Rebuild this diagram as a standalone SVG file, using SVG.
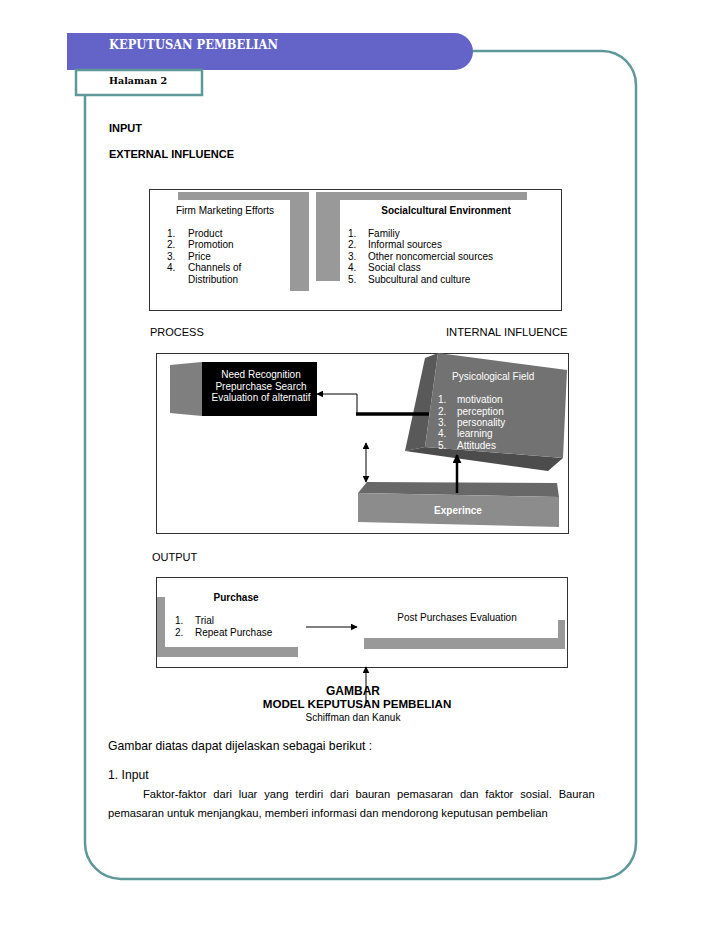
<svg xmlns="http://www.w3.org/2000/svg" width="728" height="942" viewBox="0 0 728 942">
<defs>
<marker id="ah" viewBox="0 0 10 10" refX="9" refY="5" markerWidth="7" markerHeight="7" markerUnits="userSpaceOnUse" orient="auto-start-reverse">
<path d="M0,0 L10,5 L0,10 Z" fill="#000"/>
</marker>
<marker id="ahb" viewBox="0 0 10 10" refX="9" refY="5" markerWidth="9" markerHeight="9" markerUnits="userSpaceOnUse" orient="auto-start-reverse">
<path d="M0,0 L10,5 L0,10 Z" fill="#000"/>
</marker>
<style>
.s{font-family:"Liberation Sans",Arial,sans-serif;fill:#000}
.w{font-family:"Liberation Sans",Arial,sans-serif;fill:#fff}
.b{font-weight:bold}
.f10{font-size:10px}
.f11{font-size:11px}
.box{fill:#fff;stroke:#333;stroke-width:1}
.grey{fill:#999}
.teal{fill:none;stroke:#5e9898;stroke-width:2.5}
.ln{fill:none;stroke:#000;stroke-width:1}
</style>
</defs>
<rect width="728" height="942" fill="#fff"/>

<g id="page-frame">
<path class="teal" d="M473,51 H602 A34,34 0 0 1 636,85 V843 A36,36 0 0 1 600,879 H121 A36,36 0 0 1 85,843 V96"/>
</g>

<g id="header">
<path d="M67,33 H454.5 A18.5,18.5 0 0 1 454.5,70 H67 Z" fill="#6464c8"/>
<text x="109" y="49" font-family="'DejaVu Serif','Liberation Serif',serif" font-weight="bold" font-size="12.5" fill="#fff" textLength="169" lengthAdjust="spacingAndGlyphs">KEPUTUSAN PEMBELIAN</text>
</g>

<g id="halaman">
<rect x="76" y="70" width="126" height="25" fill="#fff" stroke="#5e9898" stroke-width="2.5"/>
<text x="109" y="84" font-family="'DejaVu Serif','Liberation Serif',serif" font-weight="bold" font-size="10" fill="#000" textLength="58" lengthAdjust="spacingAndGlyphs">Halaman 2</text>
</g>

<g id="section-labels">
<text class="s b f11" x="109" y="132">INPUT</text>
<text class="s b f11" x="109" y="158">EXTERNAL INFLUENCE</text>
<text class="s f11" x="150" y="336">PROCESS</text>
<text class="s" font-size="11.2" x="446" y="336">INTERNAL INFLUENCE</text>
<text class="s f11" x="152" y="561">OUTPUT</text>
</g>

<g id="external-influence">
<rect class="box" x="149.5" y="189.5" width="412" height="121"/>
<path class="grey" d="M178,192 H309 V291 H290 V200 H178 Z"/>
<path class="grey" d="M316,192 H527 V200 H340 V281 H316 Z"/>
</g>

<g id="firm-marketing">
<text class="s f10" x="225" y="214" text-anchor="middle">Firm Marketing Efforts</text>
<text class="s f10" x="167" y="237">1.</text><text class="s f10" x="188" y="237">Product</text>
<text class="s f10" x="167" y="248">2.</text><text class="s f10" x="188" y="248">Promotion</text>
<text class="s f10" x="167" y="260">3.</text><text class="s f10" x="188" y="260">Price</text>
<text class="s f10" x="167" y="271">4.</text><text class="s f10" x="188" y="271">Channels of</text>
<text class="s f10" x="188" y="283">Distribution</text>
</g>

<g id="socialcultural">
<text class="s b f10" x="446" y="214" text-anchor="middle">Socialcultural Environment</text>
<text class="s f10" x="348" y="237">1.</text><text class="s f10" x="368" y="237">Familiy</text>
<text class="s f10" x="348" y="248">2.</text><text class="s f10" x="368" y="248">Informal sources</text>
<text class="s f10" x="348" y="260">3.</text><text class="s f10" x="368" y="260">Other noncomercial sources</text>
<text class="s f10" x="348" y="271">4.</text><text class="s f10" x="368" y="271">Social class</text>
<text class="s f10" x="348" y="283">5.</text><text class="s f10" x="368" y="283">Subcultural and culture</text>
</g>

<g id="process-frame">
<rect class="box" x="156.5" y="353.5" width="412" height="180"/>
</g>

<g id="need-recognition">
<path d="M170,365 L202,362 L202,416 L170,413 Z" fill="#7f7f7f"/>
<rect x="202" y="362" width="115" height="54" fill="#000"/>
<text class="w f10" x="261" y="378" text-anchor="middle">Need Recognition</text>
<text class="w f10" x="261" y="389.5" text-anchor="middle">Prepurchase Search</text>
<text class="w f10" x="261" y="401" text-anchor="middle">Evaluation of alternatif</text>
</g>

<g id="psychological-field">
<path d="M425,358 L438,353 L425,447 L405,451 Z" fill="#595959"/>
<path d="M405,451 L425,447 L563,458 L548,471 Z" fill="#4c4c4c"/>
<path d="M438,353 L567,370 L563,458 L425,447 Z" fill="#727272"/>
<text class="w f10" x="452" y="380">Pysicological Field</text>
<text class="w f10" x="438" y="402.5">1.</text><text class="w f10" x="457" y="402.5">motivation</text>
<text class="w f10" x="438" y="414.5">2.</text><text class="w f10" x="457" y="414.5">perception</text>
<text class="w f10" x="438" y="425.5">3.</text><text class="w f10" x="457" y="425.5">personality</text>
<text class="w f10" x="438" y="437">4.</text><text class="w f10" x="457" y="437">learning</text>
<text class="w f10" x="438" y="448.5">5.</text><text class="w f10" x="457" y="448.5">Attitudes</text>
</g>

<g id="experince">
<path d="M367,482 L557,483 L559,497 L358,493 Z" fill="#686868"/>
<path d="M358,493 L559,497 L559,527 L358,522 Z" fill="#8c8c8c"/>
<text class="w b f10" x="458" y="514" text-anchor="middle">Experince</text>
</g>

<g id="output-frame">
<rect class="box" x="156.5" y="577.5" width="411" height="90"/>
</g>

<g id="purchase">
<path class="grey" d="M157,597 H165 V647 H298 V657 H157 Z"/>
<text class="s b f10" x="236" y="601" text-anchor="middle">Purchase</text>
<text class="s f10" x="175" y="624">1.</text><text class="s f10" x="195" y="624">Trial</text>
<text class="s f10" x="175" y="636">2.</text><text class="s f10" x="195" y="636">Repeat Purchase</text>
</g>

<g id="post-purchase">
<path class="grey" d="M364,638 H558 V620 H565 V649 H364 Z"/>
<text class="s f10" x="457" y="621" text-anchor="middle">Post Purchases Evaluation</text>
</g>

<g id="connectors">
<line x1="356" y1="414" x2="429" y2="414" stroke="#000" stroke-width="3.5"/>
<polyline class="ln" points="357,414 357,394 317,394" marker-end="url(#ah)"/>
<line class="ln" x1="366" y1="443" x2="366" y2="482" marker-start="url(#ah)" marker-end="url(#ah)"/>
<line x1="457" y1="493" x2="457" y2="455" stroke="#000" stroke-width="2.5" marker-end="url(#ahb)"/>
<line class="ln" x1="306" y1="627" x2="357" y2="627" marker-end="url(#ah)"/>
<line class="ln" x1="366" y1="704" x2="366" y2="667" marker-end="url(#ah)"/>
</g>

<g id="caption">
<text class="s b" font-size="12" x="353" y="695" text-anchor="middle">GAMBAR</text>
<text class="s b" font-size="11.6" x="357" y="708" text-anchor="middle">MODEL KEPUTUSAN PEMBELIAN</text>
<text class="s f10" x="353" y="721" text-anchor="middle">Schiffman dan Kanuk</text>
</g>

<g id="body-text">
<text class="s" font-size="12.2" x="108" y="750">Gambar diatas dapat dijelaskan sebagai berikut :</text>
<text class="s" font-size="12.2" x="108" y="779">1. Input</text>
<text class="s" font-size="11.2" x="143" y="798" word-spacing="3.7">Faktor-faktor dari luar yang terdiri dari bauran pemasaran dan faktor sosial. Bauran</text>
<text class="s" font-size="11.2" x="108" y="817">pemasaran untuk menjangkau, memberi informasi dan mendorong keputusan pembelian</text>
</g>
</svg>
